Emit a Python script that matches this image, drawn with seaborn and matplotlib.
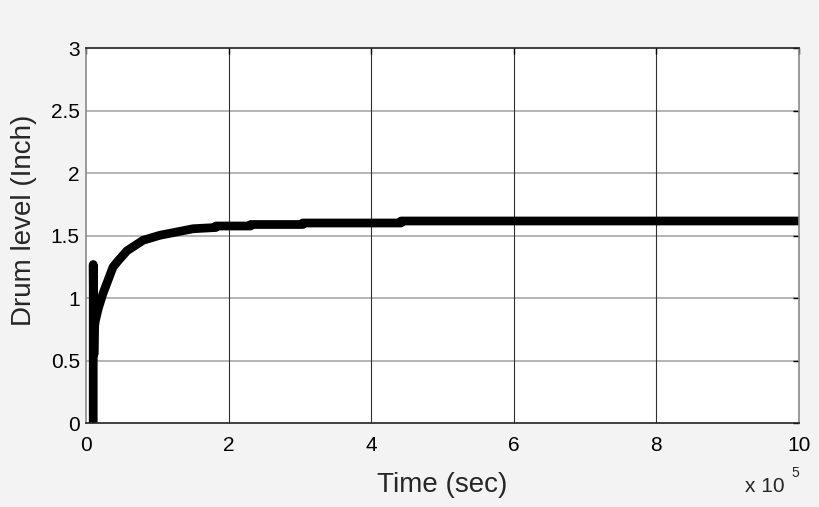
import matplotlib
matplotlib.use("Agg")
import matplotlib.pyplot as plt
import seaborn as sns
import pandas as pd

# Data (time in seconds, drum level in inches)
time_sec = [10000, 10000, 10500, 11000, 12000, 13000, 17000, 23800, 29000,
            37800, 45000, 57400, 80000, 103600, 127000, 150000, 182000,
            182000, 231000, 231000, 304000, 304000, 442000, 442000, 1000000]
drum_level = [0.0, 1.27, 0.80, 0.55, 0.78, 0.82, 0.917, 1.04, 1.118,
              1.25, 1.30, 1.38, 1.464, 1.504, 1.53, 1.556, 1.566,
              1.578, 1.578, 1.59, 1.59, 1.602, 1.602, 1.618, 1.618]

x_ticks = [0, 200000, 400000, 600000, 800000, 1000000]
x_tick_labels = ["0", "2", "4", "6", "8", "10"]
y_ticks = [0, 0.5, 1, 1.5, 2, 2.5, 3]
y_tick_labels = ["0", "0.5", "1", "1.5", "2", "2.5", "3"]

df = pd.DataFrame({"time": time_sec, "level": drum_level})

sns.set_theme(style="white")
plt.rcParams["font.family"] = ["Liberation Sans", "DejaVu Sans"]

fig = plt.figure(figsize=(8.2, 5.07), dpi=100, facecolor="#f3f3f3")
ax = fig.add_axes([0.105, 0.165, 0.869, 0.74])
ax.set_facecolor("white")

sns.lineplot(data=df, x="time", y="level", sort=False, estimator=None,
             color="black", linewidth=6.3, ax=ax,
             solid_capstyle="round", solid_joinstyle="round")

ax.set_xlim(0, 1000000)
ax.set_ylim(0, 3)
ax.set_xticks(x_ticks)
ax.set_xticklabels(x_tick_labels)
ax.set_yticks(y_ticks)
ax.set_yticklabels(y_tick_labels)

for y in y_ticks[1:-1]:
    ax.axhline(y, color="#a8a8a8", linewidth=1.2, zorder=0)
for x in x_ticks[1:-1]:
    ax.axvline(x, color="#303030", linewidth=0.8, zorder=0)

ax.tick_params(direction="in", length=4, width=1, top=True, right=True,
               labelsize=15, colors="black")
ax.tick_params(axis="x", pad=9)
ax.tick_params(axis="y", pad=4.5)
for s in ["top", "bottom"]:
    ax.spines[s].set_color("#202020")
    ax.spines[s].set_linewidth(1.2)
for s in ["left", "right"]:
    ax.spines[s].set_color("#8a8a8a")
    ax.spines[s].set_linewidth(1.2)

ax.set_xlabel("Time (sec)", fontsize=20, labelpad=12)
ax.set_ylabel("Drum level (Inch)", fontsize=20)
ax.yaxis.set_label_coords(-0.069, 0.541)

fig.text(0.908, 0.022, "x 10", fontsize=15, ha="left", va="bottom")
fig.text(0.965, 0.054, "5", fontsize=10, ha="left", va="bottom")

fig.savefig("out.png", dpi=100, facecolor=fig.get_facecolor())
